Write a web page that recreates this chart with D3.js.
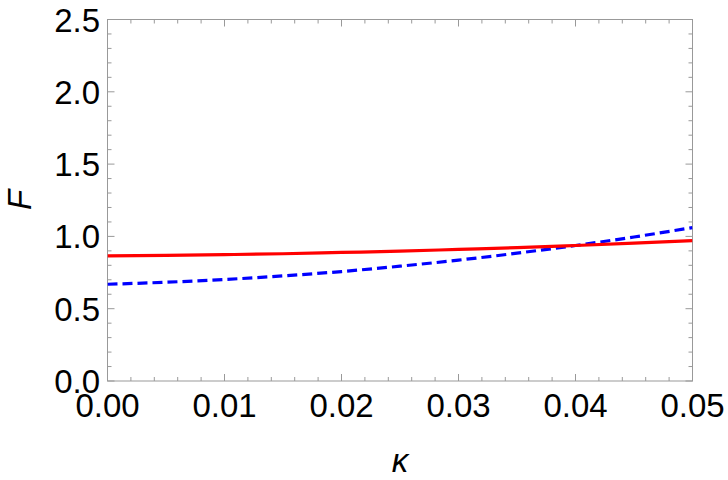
<!DOCTYPE html>
<html>
<head>
<meta charset="utf-8">
<script src="https://cdn.jsdelivr.net/npm/d3@7"></script>
<style>
  body { margin: 0; background: #fff; }
  svg { display: block; font-family: "Liberation Sans", Arial, sans-serif; }
</style>
</head>
<body>
<svg width="728" height="480"></svg>
<script>
// values
var kappa = [0, 0.005, 0.01, 0.015, 0.02, 0.025, 0.03, 0.035, 0.04, 0.045, 0.05];
var fRed  = [0.866, 0.869, 0.874, 0.880, 0.889, 0.898, 0.910, 0.922, 0.937, 0.953, 0.971];
var fBlue = [0.669, 0.683, 0.702, 0.727, 0.757, 0.794, 0.836, 0.884, 0.937, 0.996, 1.061];
var xTicks = [0, 0.01, 0.02, 0.03, 0.04, 0.05];
var yTicks = [0, 0.5, 1.0, 1.5, 2.0, 2.5];

var svg = d3.select("svg"),
    plotLeft = 107.5, plotRight = 692.5, plotTop = 19.5, plotBottom = 381;

var x = d3.scaleLinear().domain([0, 0.05]).range([plotLeft, plotRight]);
var y = d3.scaleLinear().domain([0, 2.5]).range([plotBottom, plotTop]);

var frameColor = "#999";

// minor ticks every 0.002 on x, 0.1 on y
var xMinor = d3.range(0, 26).map(function(i) { return i * 0.002; });
var yMinor = d3.range(0, 26).map(function(i) { return i * 0.1; });

var g = svg.append("g");

function tickLen(isMajor) { return isMajor ? 7 : 4; }

xMinor.forEach(function(v, i) {
  var major = (i % 5 == 0);
  var px = x(v);
  g.append("line").attr("x1", px).attr("x2", px).attr("y1", plotBottom).attr("y2", plotBottom - tickLen(major))
    .attr("stroke", frameColor);
  g.append("line").attr("x1", px).attr("x2", px).attr("y1", plotTop).attr("y2", plotTop + tickLen(major))
    .attr("stroke", frameColor);
});

yMinor.forEach(function(v, i) {
  var major = (i % 5 == 0);
  var py = y(v);
  g.append("line").attr("x1", plotLeft).attr("x2", plotLeft + tickLen(major)).attr("y1", py).attr("y2", py)
    .attr("stroke", frameColor);
  g.append("line").attr("x1", plotRight).attr("x2", plotRight - tickLen(major)).attr("y1", py).attr("y2", py)
    .attr("stroke", frameColor);
});

// frame
g.append("rect")
  .attr("x", plotLeft).attr("y", plotTop)
  .attr("width", plotRight - plotLeft).attr("height", plotBottom - plotTop)
  .attr("fill", "none").attr("stroke", frameColor).attr("stroke-width", 1);

// tick labels
svg.selectAll(".xlab")
  .data(xTicks)
  .enter().append("text")
    .attr("class", "xlab")
    .attr("x", function(d) { return x(d); })
    .attr("y", 417)
    .attr("text-anchor", "middle")
    .style("font-size", "33px")
    .text(function(d) { return d3.format(".2f")(d); });

svg.selectAll(".ylab")
  .data(yTicks)
  .enter().append("text")
    .attr("class", "ylab")
    .attr("x", 100)
    .attr("y", function(d) { return y(d) + 12; })
    .attr("text-anchor", "end")
    .style("font-size", "33px")
    .text(function(d) { return d3.format(".1f")(d); });

// axis labels
svg.append("text")
  .attr("transform", "translate(31,200) rotate(-90)")
  .attr("text-anchor", "middle")
  .style("font-size", "33px")
  .style("font-style", "italic")
  .text("F");

svg.append("text")
  .attr("x", 400).attr("y", 472)
  .attr("text-anchor", "middle")
  .style("font-size", "33px")
  .style("font-style", "italic")
  .text("κ");

// curves
var line = d3.line()
  .x(function(d) { return x(d[0]); })
  .y(function(d) { return y(d[1]); })
  .curve(d3.curveMonotoneX);

svg.append("clipPath").attr("id", "plotclip")
  .append("rect").attr("x", plotLeft).attr("y", plotTop)
  .attr("width", plotRight - plotLeft).attr("height", plotBottom - plotTop);

svg.append("path")
  .datum(d3.zip(kappa, fBlue))
  .attr("d", line)
  .attr("clip-path", "url(#plotclip)")
  .attr("fill", "none")
  .attr("stroke", "#0000ff")
  .attr("stroke-width", 3.2)
  .attr("stroke-dasharray", "10,5");

svg.append("path")
  .datum(d3.zip(kappa, fRed))
  .attr("d", line)
  .attr("clip-path", "url(#plotclip)")
  .attr("fill", "none")
  .attr("stroke", "#ff0000")
  .attr("stroke-width", 3.2);
</script>
</body>
</html>
